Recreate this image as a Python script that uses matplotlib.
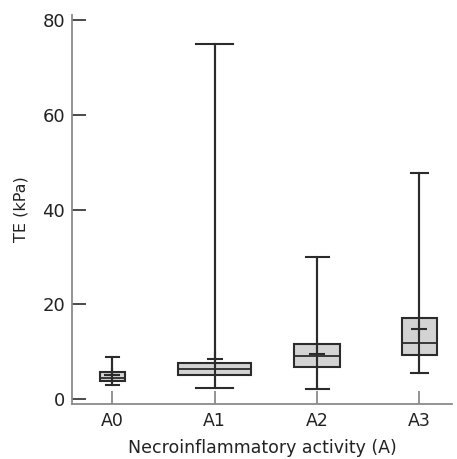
import matplotlib
matplotlib.use("Agg")
import matplotlib.pyplot as plt

# data (TE in kPa)
groups = ["A0", "A1", "A2", "A3"]
whisk_lo = [2.9, 2.3, 2.2, 5.5]
q1 = [3.9, 5.0, 6.8, 9.3]
median = [4.5, 6.3, 9.1, 11.8]
q3 = [5.7, 7.6, 11.6, 17.2]
whisk_hi = [8.8, 75.0, 30.0, 47.8]
mean = [5.1, 8.4, 9.5, 14.7]

# box widths differ per group in the original
widths = [0.245, 0.715, 0.45, 0.345]

plt.rcParams['font.family'] = ['DejaVu Sans']

fig = plt.figure(figsize=(4.57, 4.59), dpi=100)
ax = fig.add_axes([0.1575, 0.1198, 0.832, 0.8475])

pos = list(range(len(groups)))
stats = []
for i in pos:
    stats.append({"whislo": whisk_lo[i], "q1": q1[i], "med": median[i],
                  "q3": q3[i], "whishi": whisk_hi[i], "fliers": []})

dark = "#2b2b2b"
bp = ax.bxp(stats, positions=pos, widths=widths, patch_artist=True,
            showfliers=False, capwidths=[w / 2 for w in widths],
            boxprops=dict(facecolor="#d3d3d3", edgecolor=dark, linewidth=1.5),
            medianprops=dict(color=dark, linewidth=1.3),
            whiskerprops=dict(color=dark, linewidth=1.5),
            capprops=dict(color=dark, linewidth=1.5))
for b in bp["boxes"]:
    b.set_zorder(1)

# the whisker line runs through the box
ax.vlines(pos, whisk_lo, whisk_hi, color=dark, linewidth=1.5, zorder=3)
ax.plot(pos, mean, linestyle="none", marker="+", markersize=11,
        markeredgewidth=1.5, color=dark, zorder=4)

ax.set_xlim(-0.394, 3.32)
ax.set_ylim(-1.06, 81.06)
ax.set_xticks(pos)
ax.set_xticklabels(groups)
ax.set_yticks([0, 20, 40, 60, 80])

for s in ["top", "right"]:
    ax.spines[s].set_visible(False)
for s in ["left", "bottom"]:
    ax.spines[s].set_color("#8a8a8a")
    ax.spines[s].set_linewidth(1.3)

ax.tick_params(axis="y", direction="in", length=10, width=1.2, color=dark,
               labelsize=13, labelcolor="#222222", pad=5)
ax.tick_params(axis="x", direction="in", length=9.5, width=1.3, color="#8a8a8a",
               labelsize=12.5, labelcolor="#222222", pad=6)

ax.set_ylabel("TE (kPa)", fontsize=11.5, color="#222222")
ax.yaxis.set_label_coords(-0.114, 0.5)
ax.set_xlabel("Necroinflammatory activity (A)", fontsize=12.5, color="#222222",
              labelpad=6)

fig.savefig("out.png", dpi=100)
